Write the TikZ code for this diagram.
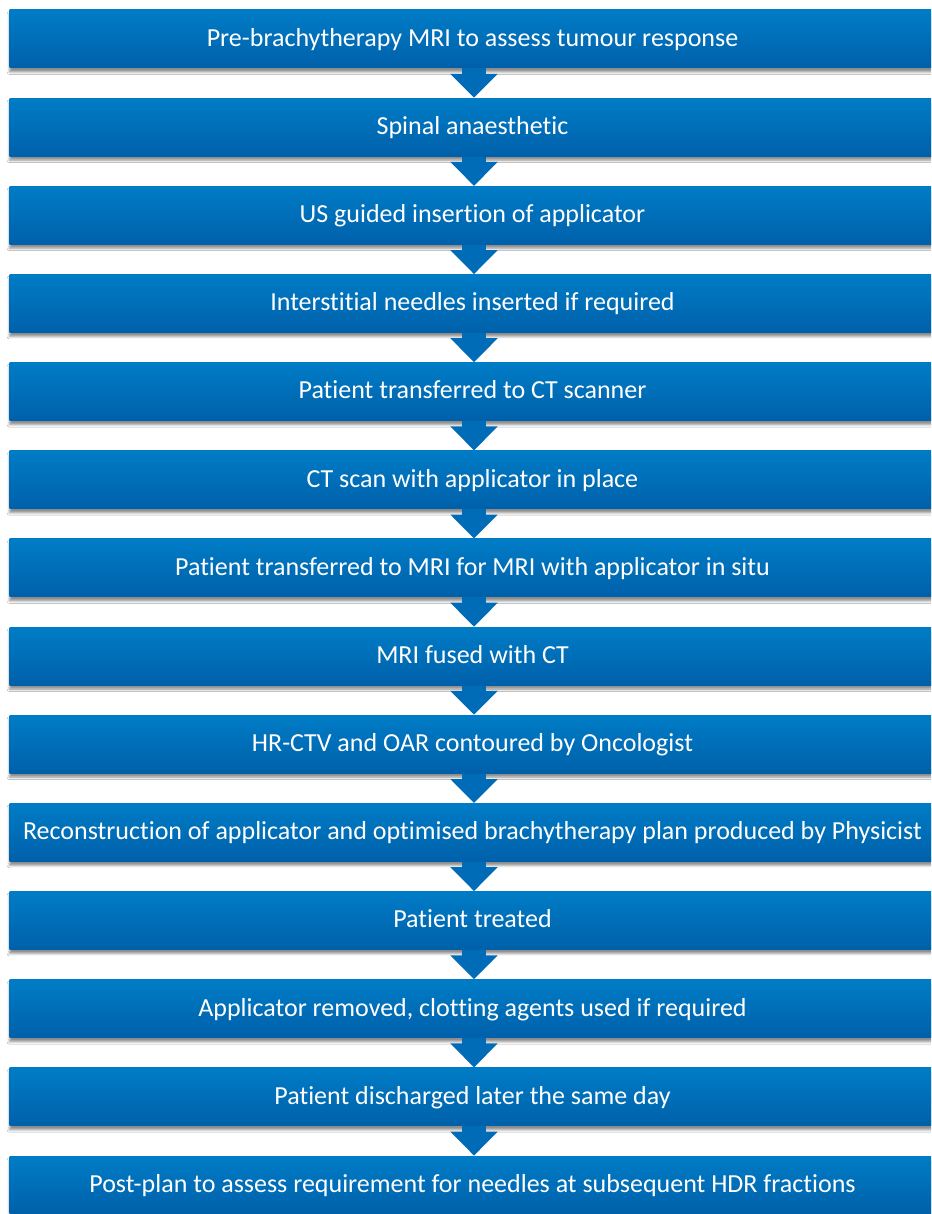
\documentclass[tikz,border=0pt]{standalone}
\usepackage{fontspec}
\setmainfont{Carlito}[Ligatures=NoCommon]
\usepackage{tikz}
\usetikzlibrary{arrows.meta}
\usetikzlibrary{shadows.blur}
\usetikzlibrary{positioning}
\definecolor{boxTop}{RGB}{0,124,198}
\definecolor{boxBottom}{RGB}{0,96,170}
\definecolor{arrowBlue}{RGB}{0,108,184}
\tikzset{
   flowbox/.style={rectangle,minimum width=463pt,minimum height=29pt,
     inner sep=0pt,top color=boxTop,bottom color=boxBottom,text=white,
     font=\fontsize{13}{15}\selectfont,text height=0.73em,text depth=0pt,
     blur shadow={shadow xshift=0pt,shadow yshift=-2pt,
       shadow blur radius=1.2pt,shadow blur steps=4,shadow opacity=45}},
   flowarr/.style={draw=arrowBlue,line width=12pt,
     -{Triangle[width=23pt,length=12pt,fill=arrowBlue]}},
}

\begin{document}
\begin{tikzpicture}[x=0.5pt,y=-0.5pt]
  \clip (0,0) rectangle (931,1214);
  \fill[white] (0,0) rectangle (931,1214);

  \node[flowbox] (s1)  at (472.5,   39.0) {Pre-brachytherapy MRI to assess tumour response};
  \node[flowbox] (s2)  at (472.5,  127.2) {Spinal anaesthetic};
  \node[flowbox] (s3)  at (472.5,  215.3) {US guided insertion of applicator};
  \node[flowbox] (s4)  at (472.5,  303.5) {Interstitial needles inserted if required};
  \node[flowbox] (s5)  at (472.5,  391.6) {Patient transferred to CT scanner};
  \node[flowbox] (s6)  at (472.5,  479.8) {CT scan with applicator in place};
  \node[flowbox] (s7)  at (472.5,  567.9) {Patient transferred to MRI for MRI with applicator in situ};
  \node[flowbox] (s8)  at (472.5,  656.1) {MRI fused with CT};
  \node[flowbox] (s9)  at (472.5,  744.2) {HR-CTV and OAR contoured by Oncologist};
  \node[flowbox] (s10) at (472.5,  832.4) {Reconstruction of applicator and optimised brachytherapy plan produced by Physicist};
  \node[flowbox] (s11) at (472.5,  920.5) {Patient treated};
  \node[flowbox] (s12) at (472.5, 1008.7) {Applicator removed, clotting agents used if required};
  \node[flowbox] (s13) at (472.5, 1096.8) {Patient discharged later the same day};
  \node[flowbox] (s14) at (472.5, 1185.0) {Post-plan to assess requirement for needles at subsequent HDR fractions};

  \foreach \a/\b in {s1/s2,s2/s3,s3/s4,s4/s5,s5/s6,s6/s7,s7/s8,
                     s8/s9,s9/s10,s10/s11,s11/s12,s12/s13,s13/s14}
    \draw[flowarr] ([xshift=0.75pt]\a.south) -- ([xshift=0.75pt]\b.north);
\end{tikzpicture}
\end{document}
